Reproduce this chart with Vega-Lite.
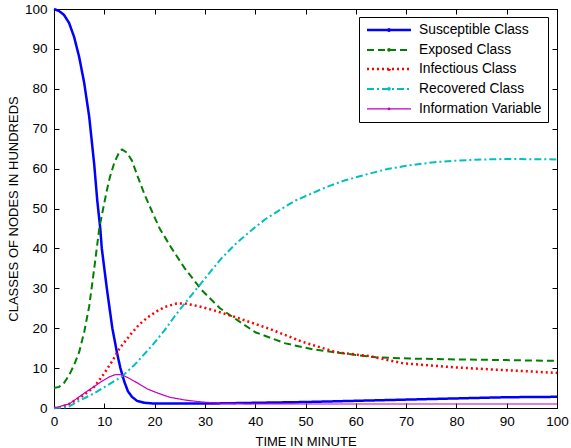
{
  "$schema": "https://vega.github.io/schema/vega-lite/v6.json",
  "width": 503,
  "height": 399,
  "autosize": "none",
  "padding": {"left": 54, "top": 9, "right": 14, "bottom": 40},
  "background": "white",
  "config": {
    "font": "Liberation Sans",
    "view": {"stroke": "black", "strokeWidth": 1},
    "axis": {
      "grid": false,
      "domainColor": "black",
      "tickColor": "black",
      "labelColor": "black",
      "titleColor": "black",
      "labelFont": "Liberation Sans",
      "titleFont": "Liberation Sans",
      "labelFontSize": 13.5,
      "titleFontSize": 13,
      "titleFontWeight": "normal",
      "labelFlush": false,
      "labelOverlap": false,
      "tickSize": -5
    }
  },
  "data": {
    "values": [
      {"series": "Susceptible Class", "t": 0, "v": 100},
      {"series": "Susceptible Class", "t": 1, "v": 99.5},
      {"series": "Susceptible Class", "t": 2, "v": 98.5},
      {"series": "Susceptible Class", "t": 3, "v": 96.5},
      {"series": "Susceptible Class", "t": 4, "v": 93},
      {"series": "Susceptible Class", "t": 5, "v": 88},
      {"series": "Susceptible Class", "t": 6, "v": 81.5},
      {"series": "Susceptible Class", "t": 7, "v": 73},
      {"series": "Susceptible Class", "t": 8, "v": 61},
      {"series": "Susceptible Class", "t": 8.6, "v": 52},
      {"series": "Susceptible Class", "t": 9.2, "v": 45},
      {"series": "Susceptible Class", "t": 9.5, "v": 40},
      {"series": "Susceptible Class", "t": 10.5, "v": 30},
      {"series": "Susceptible Class", "t": 11.6, "v": 20},
      {"series": "Susceptible Class", "t": 12.5, "v": 14},
      {"series": "Susceptible Class", "t": 13.2, "v": 10},
      {"series": "Susceptible Class", "t": 14, "v": 6.5},
      {"series": "Susceptible Class", "t": 14.7, "v": 4.2},
      {"series": "Susceptible Class", "t": 15.5, "v": 2.8},
      {"series": "Susceptible Class", "t": 16.5, "v": 1.8},
      {"series": "Susceptible Class", "t": 18, "v": 1.3},
      {"series": "Susceptible Class", "t": 20, "v": 1.1},
      {"series": "Susceptible Class", "t": 30, "v": 1.1},
      {"series": "Susceptible Class", "t": 40, "v": 1.3},
      {"series": "Susceptible Class", "t": 50, "v": 1.5},
      {"series": "Susceptible Class", "t": 60, "v": 1.8},
      {"series": "Susceptible Class", "t": 70, "v": 2.1},
      {"series": "Susceptible Class", "t": 80, "v": 2.4},
      {"series": "Susceptible Class", "t": 90, "v": 2.7},
      {"series": "Susceptible Class", "t": 100, "v": 2.8},

      {"series": "Exposed Class", "t": 0, "v": 5},
      {"series": "Exposed Class", "t": 1, "v": 5.3},
      {"series": "Exposed Class", "t": 2, "v": 6.3},
      {"series": "Exposed Class", "t": 3, "v": 8.2},
      {"series": "Exposed Class", "t": 4, "v": 10.8},
      {"series": "Exposed Class", "t": 5, "v": 14},
      {"series": "Exposed Class", "t": 6, "v": 19},
      {"series": "Exposed Class", "t": 7, "v": 25.5},
      {"series": "Exposed Class", "t": 8, "v": 35},
      {"series": "Exposed Class", "t": 8.5, "v": 40},
      {"series": "Exposed Class", "t": 9, "v": 45},
      {"series": "Exposed Class", "t": 9.7, "v": 49.5},
      {"series": "Exposed Class", "t": 10.5, "v": 54.5},
      {"series": "Exposed Class", "t": 11.1, "v": 57.8},
      {"series": "Exposed Class", "t": 12, "v": 61.5},
      {"series": "Exposed Class", "t": 13, "v": 64.2},
      {"series": "Exposed Class", "t": 13.5, "v": 64.8},
      {"series": "Exposed Class", "t": 14.5, "v": 64},
      {"series": "Exposed Class", "t": 15.5, "v": 62},
      {"series": "Exposed Class", "t": 16.7, "v": 57.8},
      {"series": "Exposed Class", "t": 18, "v": 53.5},
      {"series": "Exposed Class", "t": 19.4, "v": 49.5},
      {"series": "Exposed Class", "t": 21, "v": 45},
      {"series": "Exposed Class", "t": 23.4, "v": 40},
      {"series": "Exposed Class", "t": 26, "v": 35},
      {"series": "Exposed Class", "t": 29.4, "v": 29.5},
      {"series": "Exposed Class", "t": 33, "v": 25},
      {"series": "Exposed Class", "t": 36, "v": 22.4},
      {"series": "Exposed Class", "t": 40, "v": 19},
      {"series": "Exposed Class", "t": 46, "v": 16.2},
      {"series": "Exposed Class", "t": 51.4, "v": 14.7},
      {"series": "Exposed Class", "t": 57.4, "v": 13.7},
      {"series": "Exposed Class", "t": 64, "v": 12.7},
      {"series": "Exposed Class", "t": 70.7, "v": 12.4},
      {"series": "Exposed Class", "t": 78.6, "v": 12.2},
      {"series": "Exposed Class", "t": 90, "v": 12},
      {"series": "Exposed Class", "t": 100, "v": 11.8},

      {"series": "Infectious Class", "t": 0, "v": 0},
      {"series": "Infectious Class", "t": 1.4, "v": 0.2},
      {"series": "Infectious Class", "t": 3, "v": 1},
      {"series": "Infectious Class", "t": 5.4, "v": 2.8},
      {"series": "Infectious Class", "t": 8, "v": 5.3},
      {"series": "Infectious Class", "t": 10, "v": 8.7},
      {"series": "Infectious Class", "t": 11.7, "v": 12},
      {"series": "Infectious Class", "t": 13, "v": 14.9},
      {"series": "Infectious Class", "t": 15.4, "v": 18.7},
      {"series": "Infectious Class", "t": 17, "v": 21},
      {"series": "Infectious Class", "t": 18.7, "v": 22.8},
      {"series": "Infectious Class", "t": 20.5, "v": 24.3},
      {"series": "Infectious Class", "t": 22, "v": 25.3},
      {"series": "Infectious Class", "t": 24.4, "v": 26.2},
      {"series": "Infectious Class", "t": 26, "v": 26.2},
      {"series": "Infectious Class", "t": 28, "v": 25.7},
      {"series": "Infectious Class", "t": 29.4, "v": 25.3},
      {"series": "Infectious Class", "t": 32, "v": 24.4},
      {"series": "Infectious Class", "t": 36, "v": 22.8},
      {"series": "Infectious Class", "t": 42.7, "v": 19.9},
      {"series": "Infectious Class", "t": 49.4, "v": 16.6},
      {"series": "Infectious Class", "t": 56, "v": 14},
      {"series": "Infectious Class", "t": 62.7, "v": 13},
      {"series": "Infectious Class", "t": 69.4, "v": 11.2},
      {"series": "Infectious Class", "t": 79.4, "v": 10.2},
      {"series": "Infectious Class", "t": 89.4, "v": 9.5},
      {"series": "Infectious Class", "t": 100, "v": 8.8},

      {"series": "Recovered Class", "t": 0, "v": 0},
      {"series": "Recovered Class", "t": 2.7, "v": 0.2},
      {"series": "Recovered Class", "t": 5, "v": 1.8},
      {"series": "Recovered Class", "t": 8, "v": 3.7},
      {"series": "Recovered Class", "t": 10.5, "v": 5.6},
      {"series": "Recovered Class", "t": 13.4, "v": 7.8},
      {"series": "Recovered Class", "t": 16, "v": 10.8},
      {"series": "Recovered Class", "t": 19.4, "v": 15.5},
      {"series": "Recovered Class", "t": 22, "v": 19.5},
      {"series": "Recovered Class", "t": 24, "v": 23},
      {"series": "Recovered Class", "t": 26.5, "v": 27},
      {"series": "Recovered Class", "t": 29.4, "v": 31.5},
      {"series": "Recovered Class", "t": 33.2, "v": 37.4},
      {"series": "Recovered Class", "t": 36, "v": 41},
      {"series": "Recovered Class", "t": 39.2, "v": 44.5},
      {"series": "Recovered Class", "t": 42, "v": 47.3},
      {"series": "Recovered Class", "t": 45.1, "v": 49.8},
      {"series": "Recovered Class", "t": 48, "v": 52},
      {"series": "Recovered Class", "t": 51.1, "v": 53.7},
      {"series": "Recovered Class", "t": 54, "v": 55.3},
      {"series": "Recovered Class", "t": 57.7, "v": 57},
      {"series": "Recovered Class", "t": 62, "v": 58.5},
      {"series": "Recovered Class", "t": 66.3, "v": 59.9},
      {"series": "Recovered Class", "t": 70, "v": 60.7},
      {"series": "Recovered Class", "t": 75.6, "v": 61.6},
      {"series": "Recovered Class", "t": 80, "v": 62},
      {"series": "Recovered Class", "t": 85.5, "v": 62.3},
      {"series": "Recovered Class", "t": 90, "v": 62.4},
      {"series": "Recovered Class", "t": 100, "v": 62.3},

      {"series": "Information Variable", "t": 0, "v": 0},
      {"series": "Information Variable", "t": 3, "v": 1},
      {"series": "Information Variable", "t": 6, "v": 3.7},
      {"series": "Information Variable", "t": 9.4, "v": 6.6},
      {"series": "Information Variable", "t": 11, "v": 7.8},
      {"series": "Information Variable", "t": 12, "v": 8.3},
      {"series": "Information Variable", "t": 13, "v": 8.4},
      {"series": "Information Variable", "t": 13.7, "v": 8.2},
      {"series": "Information Variable", "t": 15, "v": 7.4},
      {"series": "Information Variable", "t": 16.7, "v": 6.2},
      {"series": "Information Variable", "t": 18.5, "v": 4.8},
      {"series": "Information Variable", "t": 20.7, "v": 3.7},
      {"series": "Information Variable", "t": 23, "v": 2.7},
      {"series": "Information Variable", "t": 26, "v": 2},
      {"series": "Information Variable", "t": 29.4, "v": 1.5},
      {"series": "Information Variable", "t": 33, "v": 1.2},
      {"series": "Information Variable", "t": 38, "v": 1.05},
      {"series": "Information Variable", "t": 50, "v": 1},
      {"series": "Information Variable", "t": 100, "v": 1}
    ]
  },
  "layer": [
    {
      "mark": {"type": "line", "strokeCap": "butt", "strokeJoin": "round"},
      "encoding": {
        "x": {
          "field": "t", "type": "quantitative",
          "scale": {"domain": [0, 100], "nice": false},
          "axis": {"orient": "bottom", "values": [0, 10, 20, 30, 40, 50, 60, 70, 80, 90, 100], "title": "TIME IN MINUTE", "labelPadding": 11, "titlePadding": 8}
        },
        "y": {
          "field": "v", "type": "quantitative",
          "scale": {"domain": [0, 100], "nice": false},
          "axis": {"orient": "left", "values": [0, 10, 20, 30, 40, 50, 60, 70, 80, 90, 100], "title": "CLASSES OF NODES IN HUNDREDS", "labelPadding": 12, "titlePadding": 4}
        },
        "color": {
          "field": "series", "type": "nominal",
          "scale": {
            "domain": ["Susceptible Class", "Exposed Class", "Infectious Class", "Recovered Class", "Information Variable"],
            "range": ["#0000ff", "#008000", "#ff0000", "#00bfbf", "#bf00bf"]
          },
          "legend": {
            "title": null,
            "orient": "none",
            "legendX": 305,
            "legendY": 8,
            "direction": "vertical",
            "fillColor": "white",
            "strokeColor": "black",
            "padding": 6,
            "rowPadding": 5,
            "labelFontSize": 13.8,
            "labelColor": "black",
            "labelFont": "Liberation Sans",
            "labelLimit": 300,
            "symbolType": "M-4,0H4M0.15,0A0.15,0.15 0 1,1 -0.15,0A0.15,0.15 0 1,1 0.15,0",
            "symbolSize": 121,
            "symbolOffset": 17,
            "labelOffset": 23
          }
        },
        "strokeDash": {
          "field": "series", "type": "nominal",
          "scale": {
            "domain": ["Susceptible Class", "Exposed Class", "Infectious Class", "Recovered Class", "Information Variable"],
            "range": [[1, 0], [7, 4], [2, 3], [7, 3, 2, 3], [1, 0]]
          }
        },
        "strokeWidth": {
          "field": "series", "type": "nominal",
          "scale": {
            "type": "ordinal",
            "domain": ["Susceptible Class", "Exposed Class", "Infectious Class", "Recovered Class", "Information Variable"],
            "range": [2.5, 2, 2.5, 2, 1.2]
          }
        }
      }
    },
    {
      "mark": {"type": "point", "opacity": 0},
      "encoding": {
        "x": {
          "field": "t", "type": "quantitative",
          "axis": {"orient": "top", "values": [0, 10, 20, 30, 40, 50, 60, 70, 80, 90, 100], "labels": false, "title": null}
        },
        "y": {
          "field": "v", "type": "quantitative",
          "axis": {"orient": "right", "values": [0, 10, 20, 30, 40, 50, 60, 70, 80, 90, 100], "labels": false, "title": null}
        }
      }
    }
  ],
  "resolve": {"axis": {"x": "independent", "y": "independent"}}
}
